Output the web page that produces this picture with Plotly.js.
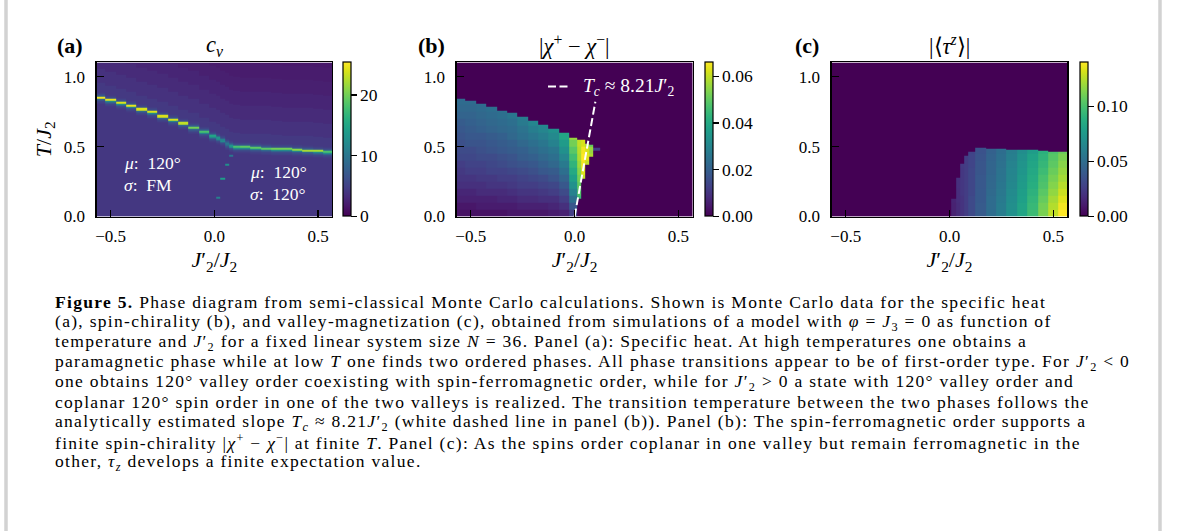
<!DOCTYPE html>
<html><head><meta charset="utf-8">
<script src="https://cdn.plot.ly/plotly-3.0.1.min.js"></script>
<style>html,body{margin:0;padding:0;background:#fff;}#chart{width:1179px;height:531px;}</style>
</head><body><div id="chart"></div>
<script>
// ---------------- data ----------------
// column centres of J2'/J2 (finer grid near zero)
const J2p = [-0.55,-0.5,-0.45,-0.4,-0.35,-0.3,-0.25,-0.2,-0.15,-0.1,-0.05,0,
             0.02,0.04,0.06,0.08,0.1,
             0.15,0.2,0.25,0.3,0.35,0.4,0.45,0.5,0.55];
// (a) specific heat: upper transition temperature and peak height per column
const cvTc = [0.853,0.833,0.814,0.790,0.767,0.745,0.719,0.693,0.667,0.638,0.609,0.576,
              0.564,0.545,0.524,0.505,0.499,
              0.495,0.493,0.488,0.483,0.481,0.476,0.474,0.469,0.464];
const cvPeak = [25,24.5,24,24.5,24,24,24,24,23,20,18,15,
                13,11,10,13,18,
                19,19,19,20,20,21,22,22,18];
// lower (ordered-ordered) transitions seen as faint points
const cvLowJ = [0.02,0.04,0.06,0.08];
const cvLowTc = [0.13,0.27,0.37,0.43];
const cvLowPeak = [11,14,12.5,10];
// c_v levels around and away from the peak
const cvHaloBelow = [13,9,7,6,5.4,5,4.6,4.3];
const cvHaloAbove = [8,6.5,5.5,5,4.6,4.3];
const cvBelow = 4.0;
const cvAboveByDist = [4.2,3.6,3.0,2.6,2.2,1.9,1.7]; // per 0.1 of T above the line

// (b) |chi+ - chi-| : extent of the non-zero region and values (x 1e-3) per 0.05-wide T band
const chiTop    = [0.845,0.829,0.81,0.786,0.762,0.738,0.714,0.685,0.66,0.631,0.602,0.567,
                   0.55,0.55,0.52,0.51,0.49, 0,0,0,0,0,0,0,0,0];
const chiBottom = [0,0,0,0,0,0,0,0,0,0,0,0,
                   0.13,0.27,0.37,0.43,0.47, 0,0,0,0,0,0,0,0,0];
const chiColsMilli = [
  [3,4,6,7,9,10,11,12,14,15,16,17,18,19,21,22,23],
  [3,4,6,7,9,10,12,13,14,15,17,18,19,20,21,22,23],
  [3,5,6,8,9,11,12,13,15,16,17,18,20,21,22,23,24],
  [3,5,6,8,10,11,13,14,15,17,18,19,21,22,23,24],
  [3,5,7,8,10,12,13,15,16,18,19,20,22,23,24,25],
  [4,5,7,9,11,12,14,16,17,19,20,22,23,24,26],
  [4,6,8,10,12,13,15,17,19,20,22,24,25,27,28],
  [4,6,8,10,12,14,16,18,20,22,24,26,28,30],
  [4,6,9,11,13,15,18,20,22,24,26,28,30,32],
  [5,7,9,12,14,17,19,22,24,26,29,31,33],
  [6,9,12,15,18,21,24,27,30,33,36,39,43],
  [12,18,24,29,33,37,40,43,46,49,52,56],
  [0,0,45,48,50,52,54,56,58,59,60],
  [0,0,0,0,0,60,63,65,66,65,62],
  [0,0,0,0,0,0,0,60,63,62,58],
  [0,0,0,0,0,0,0,0,58,56,50],
  [0,0,0,0,0,0,0,0,0,12]
];
// Tc ~ 8.21 J2' reference line
const tcLineJ = [0, 0.1];
const tcLineT = [0, 0.821];

// (c) |<tau^z>| : top of the non-zero region and values (x 1e-3) per 0.05-wide T band
const tauTop = [0,0,0,0,0,0,0,0,0,0,0,0,
                0.125,0.28,0.375,0.435,0.465,
                0.488,0.487,0.485,0.482,0.479,0.476,0.472,0.466,0.458];
const tauColsMilli = [
  [],[],[],[],[],[],[],[],[],[],[],[],
  [13,13,14],
  [17,17,18,18,19,19],
  [21,21,21,22,22,22,22,23],
  [25,25,25,25,25,25,25,25,25],
  [31,31,31,30,30,30,30,29,29,28],
  [40,40,39,39,38,38,37,37,36,35],
  [50,49,49,48,47,46,45,45,44,43],
  [59,58,57,56,55,54,53,52,51,50],
  [70,69,68,67,65,64,63,62,60,59],
  [82,81,79,78,76,75,73,72,70,68],
  [96,94,92,90,88,86,84,82,80,77],
  [112,110,107,104,101,99,96,93,91,89],
  [127,124,121,117,114,111,108,105,103,100],
  [140,137,133,129,125,121,118,115,112,108]
];

// tick labels
const xTickVals = [-0.5,0,0.5], xTickText = ['−0.5','0.0','0.5'];
const yTickVals = [0,0.5,1], yTickText = ['0.0','0.5','1.0'];
const cbA = {vals:[0,10,20], text:['0','10','20'], max:25.4};
const cbB = {vals:[0,0.02,0.04,0.06], text:['0.00','0.02','0.04','0.06'], max:0.066};
const cbC = {vals:[0,0.05,0.1], text:['0.00','0.05','0.10'], max:0.14};

// ---------------- build grids ----------------
const T_STEP = 0.005, T_MAX = 1.1, BAND = 0.05;
const Tcent = [];
for (let i = 0; i < Math.round(T_MAX / T_STEP); i++) Tcent.push(+((i + 0.5) * T_STEP).toFixed(5));

const zCv = Tcent.map((T, i) => J2p.map((x, j) => {
  const off = i - Math.floor(cvTc[j] / T_STEP);
  let v;
  if (Math.abs(off) <= 1) v = cvPeak[j];
  else if (off < 0 && -off - 1 <= cvHaloBelow.length) v = cvHaloBelow[-off - 2];
  else if (off > 0 && off - 1 <= cvHaloAbove.length) v = cvHaloAbove[off - 2];
  else if (off < 0) v = cvBelow;
  else v = cvAboveByDist[Math.min(Math.floor((T - cvTc[j]) / 0.1), cvAboveByDist.length - 1)];
  const k = cvLowJ.indexOf(x);
  if (k >= 0 && Math.abs(i - Math.floor(cvLowTc[k] / T_STEP)) <= 1) v = cvLowPeak[k];
  return v;
}));
const zChi = Tcent.map(T => J2p.map((x, j) => {
  if (T < chiBottom[j] || T >= chiTop[j]) return 0;
  const v = (chiColsMilli[j] || [])[Math.floor(T / BAND + 1e-9)];
  return v === undefined ? 0 : v / 1000;
}));
const zTau = Tcent.map(T => J2p.map((x, j) => {
  if (T >= tauTop[j]) return 0;
  const v = (tauColsMilli[j] || [])[Math.floor(T / BAND + 1e-9)];
  return v === undefined ? 0 : v / 1000;
}));

// ---------------- layout ----------------
const W = 1179, H = 531;
const fx = p => p / W, fy = p => 1 - p / H;
const FONT = 'Liberation Serif, serif';
const CAP = 'Liberation Serif, serif';
const CAP_SIZE = 17.5, CAP_SPACING = 1.3;
const yDom = [fy(216.5), fy(62)];
const cbY = (yDom[0] + yDom[1]) / 2, cbLen = yDom[1] - yDom[0];
const panels = [[96.7, 332], [456.7, 692.5], [831.7, 1067.3]];
const cbX = [343.3, 705, 1080];

function colorbar(cb, i) {
  return {x: fx(cbX[i]), xanchor: 'left', xpad: 0, ypad: 0, y: cbY, yanchor: 'middle',
    len: cbLen, lenmode: 'fraction', thickness: 7.5, thicknessmode: 'pixels',
    outlinewidth: 1.2, outlinecolor: '#000', ticks: 'outside', ticklen: 5.5, tickwidth: 1.2,
    tickcolor: '#000', tickvals: cb.vals, ticktext: cb.text, ticklabelstandoff: 7,
    tickfont: {family: FONT, size: 17.5, color: '#000'}};
}
const common = {type: 'heatmap', x: J2p, y: Tcent, colorscale: 'Viridis', zmin: 0,
  zsmooth: false, hoverinfo: 'skip'};
const data = [
  Object.assign({}, common, {z: zCv, zmax: cbA.max, xaxis: 'x', yaxis: 'y', colorbar: colorbar(cbA, 0)}),
  Object.assign({}, common, {z: zChi, zmax: cbB.max, xaxis: 'x2', yaxis: 'y2', colorbar: colorbar(cbB, 1)}),
  Object.assign({}, common, {z: zTau, zmax: cbC.max, xaxis: 'x3', yaxis: 'y3', colorbar: colorbar(cbC, 2)}),
  {type: 'scatter', mode: 'lines', x: tcLineJ, y: tcLineT, xaxis: 'x2', yaxis: 'y2',
   line: {color: '#fff', width: 2, dash: '8px,3.5px'}, hoverinfo: 'skip', showlegend: false}
];

function xax(i, anchor) {
  return {domain: [fx(panels[i][0]), fx(panels[i][1])], anchor: anchor, range: [-0.5675, 0.5675],
    showgrid: false, zeroline: false, showline: true, mirror: true, linecolor: '#000', linewidth: 1.3,
    ticks: 'inside', ticklen: 7, tickwidth: 1.3, tickcolor: '#000', tickvals: xTickVals, ticktext: xTickText,
    ticklabelstandoff: 4, tickfont: {family: FONT, size: 17, color: '#000'},
    title: {text: '<i>J</i>′<sub>2</sub>/<i>J</i><sub>2</sub>', font: {family: FONT, size: 22, color: '#000'}, standoff: 6}};
}
function yax(i, anchor, withTitle) {
  const a = {domain: yDom, anchor: anchor, range: [0, 1.105],
    showgrid: false, zeroline: false, showline: true, mirror: true, linecolor: '#000', linewidth: 1.3,
    ticks: 'inside', ticklen: 7, tickwidth: 1.3, tickcolor: '#000', tickvals: yTickVals, ticktext: yTickText,
    ticklabelstandoff: 7, tickfont: {family: FONT, size: 17, color: '#000'}};
  if (withTitle) a.title = {text: '<i>T</i>/<i>J</i><sub>2</sub>', font: {family: FONT, size: 22, color: '#000'}, standoff: 6};
  return a;
}

function ann(text, xp, yp, opts) {
  return Object.assign({text: text, xref: 'paper', yref: 'paper', x: fx(xp), y: fy(yp),
    xanchor: 'center', yanchor: 'middle', showarrow: false,
    font: {family: FONT, size: 16, color: '#000'}}, opts || {});
}
const white = {family: FONT, size: 17.5, color: '#fff'};
const titleFont = {family: FONT, size: 22.5, color: '#000'};
const labelFont = {family: FONT, size: 22, color: '#000'};
const annotations = [
  ann('<b>(a)</b>', 70, 45, {font: labelFont}),
  ann('<b>(b)</b>', 431, 45, {font: labelFont}),
  ann('<b>(c)</b>', 807, 45, {font: labelFont}),
  ann('<i>c</i><sub><i>v</i></sub>', 214.4, 46, {font: titleFont}),
  ann('|<i>χ</i><sup>+</sup> − <i>χ</i><sup>−</sup>|', 574.6, 45, {font: titleFont}),
  ann('|⟨<i>τ</i><sup><i>z</i></sup>⟩|', 949.5, 45, {font: titleFont}),
  ann('<i>μ</i>:  120°', 122, 163, {xanchor: 'left', font: white}),
  ann('<i>σ</i>:  FM', 122, 185, {xanchor: 'left', font: white}),
  ann('<i>μ</i>:  120°', 248, 172.5, {xanchor: 'left', font: white}),
  ann('<i>σ</i>:  120°', 248, 194, {xanchor: 'left', font: white}),
  ann('<i>T</i><sub><i>c</i></sub> ≈ 8.21<i>J</i>′<sub>2</sub>', 581, 86.5, {xanchor: 'left', font: {family: FONT, size: 19.5, color: '#fff'}})
];
const capStart = annotations.length;
const caption = [
  '<b>Figure 5.</b> Phase diagram from semi-classical Monte Carlo calculations. Shown is Monte Carlo data for the specific heat',
  '(a), spin-chirality (b), and valley-magnetization (c), obtained from simulations of a model with <i>φ</i> = <i>J</i><sub>3</sub> = 0 as function of',
  'temperature and <i>J</i>′<sub>2</sub> for a fixed linear system size <i>N</i> = 36. Panel (a): Specific heat. At high temperatures one obtains a',
  'paramagnetic phase while at low <i>T</i> one finds two ordered phases. All phase transitions appear to be of first-order type. For <i>J</i>′<sub>2</sub> &lt; 0',
  'one obtains 120° valley order coexisting with spin-ferromagnetic order, while for <i>J</i>′<sub>2</sub> &gt; 0 a state with 120° valley order and',
  'coplanar 120° spin order in one of the two valleys is realized. The transition temperature between the two phases follows the',
  'analytically estimated slope <i>T</i><sub><i>c</i></sub> ≈ 8.21<i>J</i>′<sub>2</sub> (white dashed line in panel (b)). Panel (b): The spin-ferromagnetic order supports a',
  'finite spin-chirality |<i>χ</i><sup>+</sup> − <i>χ</i><sup>−</sup>| at finite <i>T</i>. Panel (c): As the spins order coplanar in one valley but remain ferromagnetic in the',
  'other, <i>τ</i><sub><i>z</i></sub> develops a finite expectation value.'
];
caption.forEach((t, k) => annotations.push(
  ann(t, 53, 302 + 20 * k, {xanchor: 'left', align: 'left', font: {family: CAP, size: CAP_SIZE, color: '#000'}})));

const shapes = [
  {type: 'line', xref: 'paper', yref: 'paper', x0: fx(6), x1: fx(6), y0: 0, y1: 1, line: {color: '#d2d2d2', width: 3.5}},
  {type: 'line', xref: 'paper', yref: 'paper', x0: fx(1160), x1: fx(1160), y0: 0, y1: 1, line: {color: '#d2d2d2', width: 3.5}},
  {type: 'line', xref: 'paper', yref: 'paper', x0: fx(548), x1: fx(568), y0: fy(86.5), y1: fy(86.5), line: {color: '#fff', width: 2, dash: '8px,3.5px'}}
];

const layout = {
  width: W, height: H, margin: {l: 0, r: 0, t: 0, b: 0},
  paper_bgcolor: '#fff', plot_bgcolor: '#fff', showlegend: false,
  xaxis: xax(0, 'y'), yaxis: yax(0, 'x', true),
  xaxis2: xax(1, 'y2'), yaxis2: yax(1, 'x2', false),
  xaxis3: xax(2, 'y3'), yaxis3: yax(2, 'x3', false),
  annotations: annotations, shapes: shapes
};
Plotly.newPlot('chart', data, layout, {staticPlot: true, displayModeBar: false}).then(gd => {
  // the caption face is wider than Times: widen with letter spacing
  gd.querySelectorAll('g.annotation').forEach(g => {
    if (+g.getAttribute('data-index') >= capStart) {
      const t = g.querySelector('text.annotation-text');
      if (t) t.style.letterSpacing = CAP_SPACING + 'px';
    }
  });
});
</script></body></html>
